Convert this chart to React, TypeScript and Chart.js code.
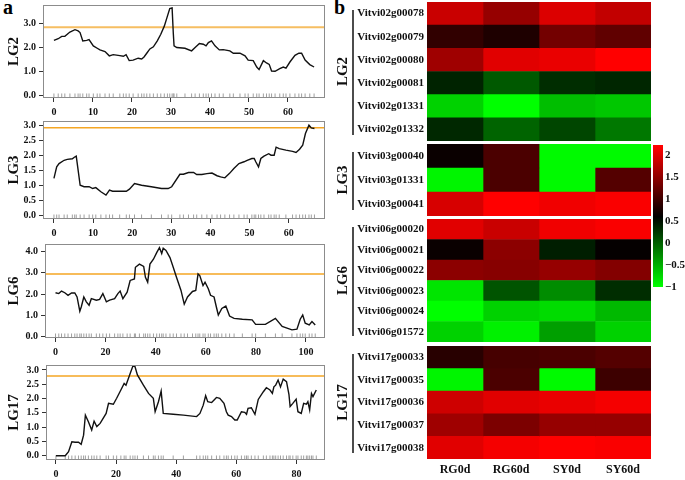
import React, { useEffect, useRef } from 'react';
import { Chart, registerables } from 'chart.js';
Chart.register(...registerables);

const SERIF = "'Liberation Serif', 'Times New Roman', serif";

// ---------- QTL LOD profiles (position cM, LOD) ----------
const lg2Lod = [[0,2.3],[1.1,2.37],[2,2.47],[2.8,2.47],[4.1,2.65],[5.4,2.75],[6.2,2.7],[6.7,2.63],[7.4,2.28],[8.4,2.3],[9,2.33],[10.1,2.07],[11.1,1.97],[11.8,1.9],[13.1,1.83],[14.2,1.65],[15.2,1.7],[16.9,1.66],[17.8,1.63],[18.5,1.7],[19.3,1.45],[20.3,1.47],[21.6,1.55],[22.5,1.52],[23.1,1.6],[23.8,1.76],[24.6,1.94],[25.5,2.03],[26.5,2.28],[27.4,2.56],[28.3,2.9],[29.1,3.32],[29.7,3.64],[30.3,3.67],[30.6,2.62],[30.8,2.07],[31.5,2.0],[33.6,1.97],[35.3,1.86],[36.2,2.0],[37.3,2.17],[38.3,2.14],[39,2.07],[39.6,2.21],[40.4,2.28],[41.3,2.07],[42.4,1.9],[43.4,1.91],[45.1,1.86],[46,1.76],[47.7,1.76],[49,1.65],[49.8,1.47],[51.1,1.45],[52,1.18],[52.6,1.07],[53.7,1.45],[54.5,1.35],[55.2,1.29],[55.8,1.01],[56.7,1.0],[57.9,1.11],[58.8,1.18],[59.5,1.13],[60.5,1.39],[61.8,1.67],[62.8,1.76],[63.5,1.76],[64.4,1.47],[65.6,1.28],[66.7,1.18]];
const lg3Lod = [[0,1.23],[0.7,1.62],[1.3,1.73],[2.6,1.84],[3.4,1.87],[4.7,1.89],[5.3,1.95],[5.7,1.98],[6.7,1.0],[7.7,0.95],[9,0.95],[9.9,0.89],[10.7,0.92],[12,0.78],[13.3,0.67],[14.2,0.84],[15,0.8],[16.8,0.8],[18.5,0.8],[19.3,0.87],[20.6,1.06],[22.4,1.0],[24.9,0.95],[27.5,0.89],[29.2,0.89],[30.1,0.95],[32.2,1.37],[33.1,1.37],[34.4,1.43],[35.7,1.43],[36.5,1.36],[37.8,1.36],[39.1,1.39],[40.4,1.41],[41.7,1.32],[42.6,1.28],[43.7,1.25],[44.9,1.4],[46,1.56],[47.3,1.73],[48.6,1.79],[49.4,1.84],[50.6,1.9],[51.2,1.9],[51.6,1.79],[52.3,1.62],[52.9,1.9],[53.7,1.98],[54.9,2.06],[55.5,2.01],[56.3,2.01],[56.8,2.28],[57.6,2.23],[59.3,2.18],[61,2.14],[61.9,2.1],[62.8,2.21],[63.6,2.35],[64.3,2.74],[65.2,3.02],[65.8,2.93],[66.6,2.91]];
const lg6Lod = [[0,2.06],[1.3,2.02],[2.4,2.14],[3.7,2.06],[5,1.94],[6.4,2.05],[7.7,2.05],[8.6,1.86],[9.7,1.19],[10.3,1.4],[11.3,1.86],[12.3,1.63],[13.4,1.47],[14.3,1.78],[16.3,1.71],[17.6,1.75],[18.9,2.02],[20.3,1.63],[21.6,1.71],[23.6,1.78],[24.9,2.02],[25.8,2.14],[26.9,1.78],[28.6,2.09],[29.8,2.64],[31.5,2.71],[31.9,3.26],[33.5,3.41],[35.2,3.3],[35.9,2.79],[36.8,2.56],[37.7,3.41],[39.1,3.64],[40.4,3.95],[41.5,4.19],[42.4,3.91],[43,4.16],[44.1,4.06],[45.7,3.72],[47,3.26],[48.3,2.79],[50.1,2.17],[51.4,1.52],[52.7,1.86],[54.7,2.12],[56,2.17],[56.9,2.95],[57.6,2.87],[58.9,2.4],[59.7,2.56],[61,2.25],[61.9,1.94],[63.3,1.86],[64.2,1.4],[65,1.01],[66.4,1.32],[68,1.43],[69.5,0.96],[71.3,0.85],[74.6,0.81],[78.5,0.78],[79.9,0.57],[83.8,0.57],[87.8,0.85],[90.5,0.47],[94.4,0.31],[96.4,0.34],[97.7,0.81],[98.7,1.01],[99.7,0.62],[101.3,0.54],[102.4,0.7],[103.7,0.54]];
const lg17Lod = [[0,0],[3.1,0],[4.2,0.14],[5.3,0.49],[6.4,0.47],[7.5,0.47],[8.4,0.4],[9.2,0.72],[9.8,1.42],[10.8,1.19],[11.9,0.9],[12.7,1.21],[13.6,1.02],[14.7,1.13],[16.7,1.48],[17.5,1.83],[19.1,1.8],[20.2,2.01],[21.6,2.3],[22.7,2.53],[23.3,2.47],[24.7,2.88],[25.6,3.14],[26.3,3.12],[27.1,2.83],[29.1,2.47],[30.8,2.18],[32.4,2.01],[33,1.54],[34.1,1.89],[35,2.26],[35.7,1.48],[39,1.45],[42.4,1.42],[46.8,1.37],[47.9,1.48],[49,1.77],[49.8,2.1],[50.5,1.89],[51.8,1.86],[53.4,2.04],[54.5,2.01],[55.9,1.83],[56.7,1.54],[57.3,1.42],[58.4,1.37],[59.5,1.25],[60.3,1.25],[61.7,1.54],[62.8,1.52],[63.4,1.45],[63.9,1.66],[65,1.68],[66.2,1.45],[67.3,1.97],[69,2.24],[70,2.38],[71.2,2.3],[72,2.18],[72.5,2.41],[73.1,2.47],[73.9,2.65],[74.7,2.41],[75.6,2.68],[76.7,2.59],[77.5,2.15],[77.9,1.72],[78.8,1.83],[79.9,1.98],[80.5,1.54],[81.6,1.48],[82.4,1.83],[83.3,1.8],[83.8,1.89],[84.4,1.6],[85,2.18],[85.5,2.07],[86.6,2.3]];

const lg2Threshold = 2.85;
const lg3Threshold = 2.93;
const lg6Threshold = 2.95;
const lg17Threshold = 2.79;

const lg2XTicks = [0, 10, 20, 30, 40, 50, 60];
const lg3XTicks = [0, 10, 20, 30, 40, 50, 60];
const lg6XTicks = [0, 20, 40, 60, 80, 100];
const lg17XTicks = [0, 20, 40, 60, 80];
const lg2YTicks = [0, 1, 2, 3];
const lg3YTicks = [0, 0.5, 1, 1.5, 2, 2.5, 3];
const lg6YTicks = [0, 1, 2, 3, 4];
const lg17YTicks = [0, 0.5, 1, 1.5, 2, 2.5, 3];

// ---------- Heatmap ----------
const columns = ['RG0d', 'RG60d', 'SY0d', 'SY60d'];
const lg2Genes = ['Vitvi02g00078', 'Vitvi02g00079', 'Vitvi02g00080', 'Vitvi02g00081', 'Vitvi02g01331', 'Vitvi02g01332'];
const lg2Expr = [[1.86,1.54,1.98,1.82],[0.91,0.79,1.32,1.20],[1.60,2.01,2.07,2.2],[0.38,0.04,0.32,0.36],[-0.72,-1.0,-0.59,-0.65],[0.35,-0.03,0.16,-0.15]];
const lg3Genes = ['Vitvi03g00040', 'Vitvi03g01331', 'Vitvi03g00041'];
const lg3Expr = [[0.66,1.07,-0.97,-0.97],[-0.94,1.07,-0.97,1.13],[1.95,2.2,2.11,2.17]];
const lg6Genes = ['Vitvi06g00020', 'Vitvi06g00021', 'Vitvi06g00022', 'Vitvi06g00023', 'Vitvi06g00024', 'Vitvi06g01572'];
const lg6Expr = [[2.01,1.86,2.11,2.17],[0.66,1.48,0.41,0.63],[1.48,1.45,1.54,1.42],[-0.84,0.07,-0.28,0.32],[-1.0,-0.72,-0.78,-0.56],[-0.72,-0.91,-0.40,-0.72]];
const lg17Genes = ['Vitvi17g00033', 'Vitvi17g00035', 'Vitvi17g00036', 'Vitvi17g00037', 'Vitvi17g00038'];
const lg17Expr = [[0.85,1.04,1.07,1.13],[-0.94,1.07,-0.97,0.98],[1.89,2.01,2.07,2.14],[1.60,1.38,1.54,1.54],[2.01,2.14,2.2,2.17]];
const colorbarTicks = [-1, -0.5, 0, 0.5, 1, 1.5, 2];
const colorMin = -1;
const colorMid = 0.6;
const colorMax = 2.2;

function heatColor(v: number) {
  if (v >= colorMid) {
    const t = Math.min(1, (v - colorMid) / (colorMax - colorMid));
    return `rgb(${Math.round(255 * t)},0,0)`;
  }
  const t = Math.min(1, (colorMid - v) / (colorMid - colorMin));
  return `rgb(0,${Math.round(255 * t)},0)`;
}

const boxPlugin = {
  id: 'boxBorder',
  afterDatasetsDraw(chart: any) {
    const { ctx, chartArea: a } = chart;
    ctx.save();
    ctx.strokeStyle = '#8c8c8c';
    ctx.lineWidth = 1;
    ctx.strokeRect(a.left + 0.5, a.top + 0.5, a.right - a.left - 1, a.bottom - a.top - 1);
    ctx.restore();
  },
};

const groupLinePlugin = {
  id: 'groupLine',
  afterDraw(chart: any) {
    const { ctx, chartArea: a } = chart;
    ctx.save();
    ctx.strokeStyle = '#111';
    ctx.lineWidth = 1.5;
    ctx.beginPath();
    ctx.moveTo(a.left - 74, a.top + 8);
    ctx.lineTo(a.left - 74, a.bottom - 6);
    ctx.stroke();
    ctx.restore();
  },
};

function zeroPad(s: any) {
  s.paddingTop = 0;
  s.paddingBottom = 0;
  s.paddingLeft = 0;
  s.paddingRight = 0;
}

function ChartBox({ left, top, width, height, config }: any) {
  const ref = useRef<HTMLCanvasElement>(null);
  useEffect(() => {
    const chart = new Chart(ref.current as HTMLCanvasElement, config());
    return () => chart.destroy();
  }, []);
  return (
    <div style={{ position: 'absolute', left, top, width, height }}>
      <canvas ref={ref} width={width} height={height} style={{ width, height, display: 'block' }} />
    </div>
  );
}

const tickFont = { family: SERIF, weight: 'bold' as const, size: 10 };

function lineConfig(p: any) {
  return () => ({
    type: 'line',
    data: {
      datasets: [
        {
          type: 'line',
          data: p.lod.map((d: number[]) => ({ x: d[0], y: d[1] })),
          borderColor: '#111',
          borderWidth: 1.4,
          pointRadius: 0,
          tension: 0,
          order: 1,
        },
        {
          type: 'line',
          data: [{ x: p.xMin, y: p.thr }, { x: p.xMax, y: p.thr }],
          borderColor: p.thrColor,
          borderWidth: p.thrWidth,
          pointRadius: 0,
          order: 2,
        },
        {
          type: 'scatter',
          data: p.lod.map((d: number[]) => ({ x: d[0], y: p.rugY })),
          pointStyle: 'line',
          pointRotation: 90,
          pointRadius: 2.5,
          pointBorderColor: '#a0a0a0',
          pointBorderWidth: 1,
          order: 3,
        },
      ],
    },
    options: {
      responsive: false,
      animation: false,
      events: [],
      layout: { padding: { top: p.padTop, right: 5, left: 0, bottom: 0 } },
      plugins: { legend: { display: false }, tooltip: { enabled: false } },
      scales: {
        x: {
          type: 'linear',
          min: p.xMin,
          max: p.xMax,
          afterBuildTicks: (s: any) => { s.ticks = p.xTicks.map((v: number) => ({ value: v })); },
          afterFit: (s: any) => { s.height = p.xAxisH; zeroPad(s); },
          grid: { display: true, drawOnChartArea: false, drawTicks: true, tickLength: 4, color: '#333' },
          border: { display: false },
          ticks: { font: tickFont, color: '#111', padding: 4, maxRotation: 0, autoSkip: false, callback: (v: any) => String(v) },
        },
        y: {
          type: 'linear',
          min: p.yMin,
          max: p.yMax,
          afterBuildTicks: (s: any) => { s.ticks = p.yTicks.map((v: number) => ({ value: v })); },
          afterFit: (s: any) => { s.width = p.yAxisW; zeroPad(s); },
          grid: { display: true, drawOnChartArea: false, drawTicks: true, tickLength: 4, color: '#333' },
          border: { display: false },
          ticks: { font: tickFont, color: '#111', padding: 3, autoSkip: false, callback: (v: any) => Number(v).toFixed(1) },
          title: { display: true, text: p.label, color: '#111', font: { family: SERIF, weight: 'bold', size: 15 }, padding: { top: 5, bottom: 0 } },
        },
      },
    },
    plugins: [boxPlugin],
  });
}

function heatConfig(h: any) {
  return () => ({
    type: 'bar',
    data: {
      labels: h.genes,
      datasets: columns.map((c, ci) => ({
        label: c,
        data: h.genes.map(() => [ci, ci + 1]),
        backgroundColor: h.expr.map((r: number[]) => heatColor(r[ci])),
        borderWidth: 0,
        barPercentage: 1,
        categoryPercentage: 1,
        grouped: false,
      })),
    },
    options: {
      indexAxis: 'y',
      responsive: false,
      animation: false,
      events: [],
      layout: { padding: { top: 0, right: 1, left: 0, bottom: 0 } },
      plugins: { legend: { display: false }, tooltip: { enabled: false } },
      scales: {
        x: {
          type: 'linear',
          min: 0,
          max: 4,
          display: h.showX,
          afterBuildTicks: (s: any) => { s.ticks = [0.5, 1.5, 2.5, 3.5].map((v) => ({ value: v })); },
          afterFit: (s: any) => { s.height = h.showX ? 22 : 0; zeroPad(s); },
          grid: { display: false, drawTicks: false },
          border: { display: false },
          ticks: { font: { family: SERIF, weight: 'bold', size: 12 }, color: '#111', padding: 4, maxRotation: 0, autoSkip: false, callback: (v: any) => columns[Math.floor(v)] },
        },
        y: {
          afterFit: (s: any) => { s.width = 97; zeroPad(s); },
          grid: { display: false, drawTicks: false },
          border: { display: false },
          ticks: { font: { family: SERIF, weight: 'bold', size: 11 }, color: '#111', padding: 3, autoSkip: false },
          title: { display: true, text: h.group, color: '#111', font: { family: SERIF, weight: 'bold', size: 15 }, padding: { top: 4, bottom: 0 } },
        },
      },
    },
    plugins: [groupLinePlugin],
  });
}

function colorbarConfig() {
  return {
    type: 'bar',
    data: {
      labels: [''],
      datasets: [{
        data: [[colorMin, 2.23]],
        borderWidth: 0,
        barPercentage: 1,
        categoryPercentage: 1,
        backgroundColor: (ctx: any) => {
          const chart = ctx.chart;
          if (!chart.chartArea) return '#000';
          const y = chart.scales.y;
          const g = chart.ctx.createLinearGradient(0, y.getPixelForValue(colorMin), 0, y.getPixelForValue(colorMax));
          g.addColorStop(0, 'rgb(0,255,0)');
          g.addColorStop((colorMid - colorMin) / (colorMax - colorMin), 'rgb(0,0,0)');
          g.addColorStop(1, 'rgb(255,0,0)');
          return g;
        },
      }],
    },
    options: {
      responsive: false,
      animation: false,
      events: [],
      layout: { padding: { top: 10, left: 8, bottom: 8, right: 0 } },
      plugins: { legend: { display: false }, tooltip: { enabled: false } },
      scales: {
        x: { display: false, afterFit: (s: any) => { s.height = 0; zeroPad(s); } },
        y: {
          position: 'right',
          min: colorMin,
          max: 2.23,
          afterBuildTicks: (s: any) => { s.ticks = colorbarTicks.map((v) => ({ value: v })); },
          afterFit: (s: any) => { s.width = 22; zeroPad(s); },
          grid: { display: false, drawTicks: false },
          border: { display: false },
          ticks: { font: { family: SERIF, weight: 'bold', size: 11 }, color: '#111', padding: 2, callback: (v: any) => String(v).replace('-', '\u2212') },
        },
      },
    },
  };
}

const orangeLight = '#F6BE62';
const orange = '#F5A623';

export default function App() {
  return (
    <div style={{ position: 'absolute', left: 0, top: 0, width: 685, height: 480, background: '#fff', overflow: 'hidden' }}>
      <div style={{ position: 'absolute', left: 3, top: -4, font: `bold 20px ${SERIF}` }}>a</div>
      <div style={{ position: 'absolute', left: 334, top: -4, font: `bold 20px ${SERIF}` }}>b</div>

      <ChartBox left={0} top={0} width={330} height={120} config={lineConfig({
        lod: lg2Lod, thr: lg2Threshold, thrColor: orangeLight, thrWidth: 2, label: 'LG2',
        xMin: -2.8, xMax: 69.5, yMin: -0.125, yMax: 3.79, xTicks: lg2XTicks, yTicks: lg2YTicks,
        rugY: -0.04, padTop: 4, yAxisW: 43, xAxisH: 22,
      })} />
      <ChartBox left={0} top={115} width={330} height={125} config={lineConfig({
        lod: lg3Lod, thr: lg3Threshold, thrColor: orange, thrWidth: 1.5, label: 'LG3',
        xMin: -2.8, xMax: 69.3, yMin: -0.134, yMax: 3.16, xTicks: lg3XTicks, yTicks: lg3YTicks,
        rugY: -0.067, padTop: 6, yAxisW: 43, xAxisH: 21,
      })} />
      <ChartBox left={0} top={238} width={330} height={125} config={lineConfig({
        lod: lg6Lod, thr: lg6Threshold, thrColor: orange, thrWidth: 1.5, label: 'LG6',
        xMin: -4.2, xMax: 107.6, yMin: -0.075, yMax: 4.36, xTicks: lg6XTicks, yTicks: lg6YTicks,
        rugY: 0.02, padTop: 6, yAxisW: 45, xAxisH: 25,
      })} />
      <ChartBox left={0} top={360} width={330} height={120} config={lineConfig({
        lod: lg17Lod, thr: lg17Threshold, thrColor: orange, thrWidth: 1.5, label: 'LG17',
        xMin: -3.3, xMax: 89.5, yMin: -0.15, yMax: 3.175, xTicks: lg17XTicks, yTicks: lg17YTicks,
        rugY: -0.08, padTop: 5, yAxisW: 46, xAxisH: 20,
      })} />

      <ChartBox left={330} top={2} width={322} height={139} config={heatConfig({ genes: lg2Genes, expr: lg2Expr, group: 'LG2', showX: false })} />
      <ChartBox left={330} top={144} width={322} height={72} config={heatConfig({ genes: lg3Genes, expr: lg3Expr, group: 'LG3', showX: false })} />
      <ChartBox left={330} top={219} width={322} height={123} config={heatConfig({ genes: lg6Genes, expr: lg6Expr, group: 'LG6', showX: false })} />
      <ChartBox left={330} top={346} width={322} height={135} config={heatConfig({ genes: lg17Genes, expr: lg17Expr, group: 'LG17', showX: true })} />

      <ChartBox left={645} top={135} width={40} height={160} config={colorbarConfig} />
    </div>
  );
}
